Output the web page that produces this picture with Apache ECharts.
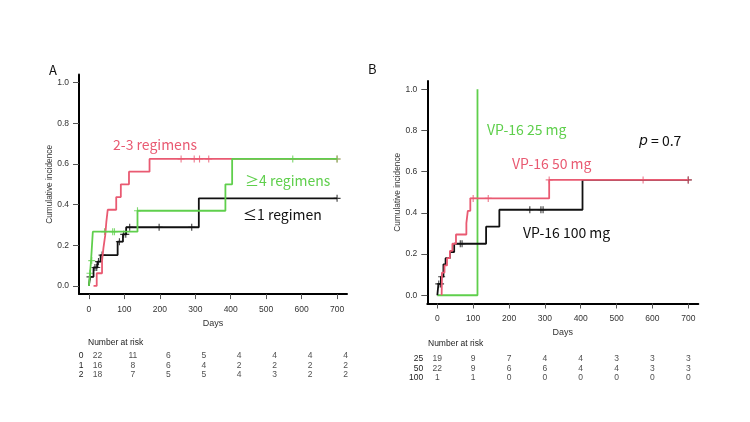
<!DOCTYPE html>
<html>
<head>
<meta charset="utf-8">
<script src="https://cdn.jsdelivr.net/npm/echarts@6/dist/echarts.min.js"></script>
<style>
html, body { margin: 0; padding: 0; background: #fff; }
#chart { width: 750px; height: 422px; }
</style>
</head>
<body>
<div id="chart"></div>
<script>
// tick values
var dayTicks = [0, 100, 200, 300, 400, 500, 600, 700];
var cifTicks = [0, 0.2, 0.4, 0.6, 0.8, 1.0];

// panel A: step curves (time, value after time)
var aBlackT = [0, 3, 13, 24, 33, 81, 96, 105, 310, 700];
var aBlackV = [0, 0.045, 0.091, 0.12, 0.152, 0.218, 0.254, 0.289, 0.431, 0.431];
var aBlackCens = [3, 17, 22, 27, 37, 86, 98, 104, 115, 198, 290, 700];

var aRedT = [13, 22, 37, 41, 46, 49, 53, 77, 90, 113, 171, 700];
var aRedV = [0, 0.0625, 0.125, 0.1875, 0.25, 0.3125, 0.375, 0.4375, 0.5, 0.5625, 0.625, 0.625];
var aRedCens = [260, 297, 312, 338, 700];

var aGreenT = [0, 3, 6, 11, 137, 385, 404, 700];
var aGreenV = [0, 0.0625, 0.125, 0.267, 0.37, 0.5, 0.625, 0.625];
var aGreenCens = [3, 8, 44, 67, 72, 137, 575, 700];

// panel B
var bBlackT = [0, 3, 10, 17, 23, 35, 47, 136, 173, 405, 700];
var bBlackV = [0, 0.055, 0.09, 0.15, 0.18, 0.21, 0.25, 0.333, 0.415, 0.56, 0.56];
var bBlackCens = [4, 9, 12, 64, 69, 258, 289, 295, 700];

var bRedT = [12, 13, 20, 27, 35, 42, 52, 81, 85, 92, 312, 700];
var bRedV = [0, 0.11, 0.145, 0.18, 0.215, 0.25, 0.295, 0.35, 0.41, 0.47, 0.56, 0.56];
var bRedCens = [100, 142, 312, 574, 700];

var bGreenT = [0, 112];
var bGreenV = [0, 1.0];

// number at risk
var aRiskNames = ['0', '1', '2'];
var aRisk0 = [22, 11, 6, 5, 4, 4, 4, 4];
var aRisk1 = [16, 8, 6, 4, 2, 2, 2, 2];
var aRisk2 = [18, 7, 5, 5, 4, 3, 2, 2];

var bRiskNames = ['25', '50', '100'];
var bRisk25 = [19, 9, 7, 4, 4, 3, 3, 3];
var bRisk50 = [22, 9, 6, 6, 4, 4, 3, 3];
var bRisk100 = [1, 1, 0, 0, 0, 0, 0, 0];

var RED = '#e95a72';
var GREEN = '#5fcf4c';
var BLACK = '#111';
var FONT = '"Noto Sans CJK JP", "Noto Sans", sans-serif';
var AX_FONT = '"Liberation Sans", Arial, sans-serif';
var PLUS = 'path://M0.42,0H0.58V0.42H1V0.58H0.58V1H0.42V0.58H0V0.42H0.42Z';

function zip(t, v) {
    var out = [];
    for (var i = 0; i < t.length; i++) out.push([t[i], v[i]]);
    return out;
}

//value of step curve at time x
function stepAt(t, v, x) {
    var val = v[0];
    for (var i = 0; i < t.length; i++) {
        if (t[i] <= x) val = v[i];
    }
    return val;
}

function censData(t, v, cens) {
    return cens.map(function (c) { return [c, stepAt(t, v, c)]; });
}

function curve(idx, t, v, color) {
    return {
        type: 'line', xAxisIndex: idx, yAxisIndex: idx,
        data: zip(t, v), step: 'end', showSymbol: false, silent: true,
        lineStyle: { color: color, width: 1.8 }
    };
}

function cens(idx, t, v, c, color) {
    return {
        type: 'scatter', xAxisIndex: idx, yAxisIndex: idx,
        data: censData(t, v, c), symbol: PLUS, symbolSize: 7, silent: true,
        itemStyle: { color: color }
    };
}

function riskSeries(idx, names, rows, offset) {
    var data = [];
    rows.forEach(function (row, r) {
        row.forEach(function (n, i) {
            data.push([dayTicks[i], names[r], n]);
        });
    });
    return {
        type: 'scatter', xAxisIndex: idx, yAxisIndex: idx,
        data: data, symbolSize: 1, silent: true,
        itemStyle: { color: 'rgba(0,0,0,0)' },
        label: {
            show: true, position: 'inside', offset: [offset, 0],
            formatter: function (p) { return p.value[2]; },
            fontSize: 8.5, color: '#222', fontFamily: AX_FONT
        }
    };
}

function plotX(idx) {
    return {
        type: 'value', gridIndex: idx, min: -28, max: 728,
        splitLine: { show: false },
        axisLine: { onZero: false, lineStyle: { color: '#000', width: 2 } },
        axisTick: { customValues: dayTicks, length: 5, lineStyle: { color: '#555' } },
        axisLabel: { customValues: dayTicks, fontSize: 8.5, color: '#333', margin: 11, fontFamily: AX_FONT },
        name: 'Days', nameLocation: 'middle', nameGap: 16,
        nameTextStyle: { fontSize: 9, color: '#333', fontFamily: AX_FONT }
    };
}

function plotY(idx) {
    return {
        type: 'value', gridIndex: idx, min: -0.04, max: 1.04,
        splitLine: { show: false },
        axisLine: { show: true, onZero: false, lineStyle: { color: '#000', width: 2 } },
        axisTick: { show: true, customValues: cifTicks, length: 6, lineStyle: { color: '#555' } },
        axisLabel: {
            customValues: cifTicks, fontSize: 8.5, color: '#333', margin: 10, fontFamily: AX_FONT,
            formatter: function (v) { return v.toFixed(1); }
        },
        name: 'Cumulative incidence', nameLocation: 'middle', nameGap: 25,
        nameTextStyle: { fontSize: 8.3, color: '#333', fontFamily: AX_FONT }
    };
}

function tableX(idx) {
    return { type: 'value', gridIndex: idx, min: -28, max: 728, show: false };
}

function tableY(idx, names, margin, align) {
    return {
        type: 'category', gridIndex: idx, data: names, inverse: true,
        axisLine: { show: false }, axisTick: { show: false }, splitLine: { show: false },
        axisLabel: { interval: 0, margin: margin, align: align, fontSize: 8.5, color: '#222', fontFamily: AX_FONT }
    };
}

function label(x, y, text, color, size) {
    return {
        type: 'text', x: x, y: y, silent: true,
        style: { text: text, fill: color, font: (size || 14) + 'px ' + FONT, verticalAlign: 'middle' }
    };
}

var myChart = echarts.init(document.getElementById('chart'), null, { renderer: 'canvas' });

var option = {
    backgroundColor: '#fff',
    animation: false,
    grid: [
        { left: 79, top: 74.6, width: 268, height: 219.5 },
        { left: 427.3, top: 81, width: 271, height: 222.5 },
        { left: 79, top: 351, width: 268, height: 28.5 },
        { left: 427.3, top: 354, width: 271, height: 28.5 }
    ],
    xAxis: [plotX(0), plotX(1), tableX(2), tableX(3)],
    yAxis: [plotY(0), plotY(1), tableY(2, aRiskNames, -2, 'center'), tableY(3, bRiskNames, 4, 'right')],
    series: [
        curve(0, aBlackT, aBlackV, BLACK),
        curve(0, aRedT, aRedV, RED),
        curve(0, aGreenT, aGreenV, GREEN),
        cens(0, aBlackT, aBlackV, aBlackCens, BLACK),
        cens(0, aRedT, aRedV, aRedCens, RED),
        cens(0, aGreenT, aGreenV, aGreenCens, GREEN),

        curve(1, bGreenT, bGreenV, GREEN),
        curve(1, bBlackT, bBlackV, BLACK),
        curve(1, bRedT, bRedV, RED),
        cens(1, bBlackT, bBlackV, bBlackCens, BLACK),
        cens(1, bRedT, bRedV, bRedCens, RED),

        riskSeries(2, aRiskNames, [aRisk0, aRisk1, aRisk2], 8.5),
        riskSeries(3, bRiskNames, [bRisk25, bRisk50, bRisk100], 0)
    ],
    graphic: [
        label(49, 70, 'A', '#111', 13),
        label(368, 69, 'B', '#111', 13),
        label(113, 145, '2-3 regimens', RED),
        label(245, 181, '≥4 regimens', GREEN),
        label(243, 215, '≤1 regimen', BLACK),
        label(487, 130, 'VP-16 25 mg', GREEN),
        label(512, 164, 'VP-16 50 mg', RED),
        label(523, 233, 'VP-16 100 mg', BLACK),
        {
            type: 'text', x: 639, y: 141, silent: true,
            style: {
                text: '{i|p} = 0.7', fill: '#111', font: '14px ' + FONT, verticalAlign: 'middle',
                rich: { i: { fontStyle: 'italic', fontSize: 14, fontFamily: 'DejaVu Sans', fill: '#111' } }
            }
        },
        {
            type: 'text', x: 88, y: 343, silent: true,
            style: { text: 'Number at risk', fill: '#222', font: '8.5px ' + AX_FONT, verticalAlign: 'middle' }
        },
        {
            type: 'text', x: 428, y: 344, silent: true,
            style: { text: 'Number at risk', fill: '#222', font: '8.5px ' + AX_FONT, verticalAlign: 'middle' }
        }
    ]
};

myChart.setOption(option);
</script>
</body>
</html>
